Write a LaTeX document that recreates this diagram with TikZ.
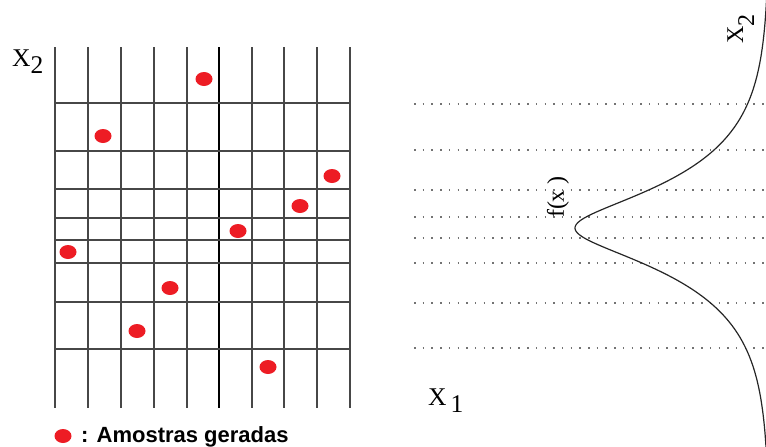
\documentclass[tikz,border=0pt]{standalone}
\usepackage{fontspec}
\setmainfont{Liberation Serif}
\newfontfamily\legendfont{Liberation Sans}
\usetikzlibrary{shapes.geometric}
\tikzset{
  gridline/.style={line width=1.8pt, black!72},
  midline/.style={line width=1.1pt, black},
  dotline/.style={line width=1.8pt, black!55, dash pattern=on 1.5pt off 7.2pt},
  curve/.style={line width=1.2pt, black!85},
  sample/.style={ellipse, fill={rgb,255:red,237;green,28;blue,36}, draw=none, minimum width=17pt, minimum height=14pt, inner sep=0pt},
  lbl/.style={inner sep=0pt, font=\fontsize{25.5}{26}\selectfont},
}
\begin{document}
\begin{tikzpicture}[x=1pt,y=-1pt]
\useasboundingbox (0,0) rectangle (766,447);
% left grid
\foreach \x in {55,88,121,154,187,252,284,317,350}
  \draw[gridline] (\x,47) -- (\x,408);
\draw[midline] (219,47) -- (219,408);
\foreach \y in {103,151,189,218,240,263,302,349}
  \draw[gridline] (55,\y) -- (350,\y);
% samples
\node[sample] (s1) at (204,79) {};
\node[sample] (s2) at (103,136) {};
\node[sample] (s3) at (332,176) {};
\node[sample] (s4) at (300,206) {};
\node[sample] (s5) at (238,231) {};
\node[sample] (s6) at (68,252) {};
\node[sample] (s7) at (170,288) {};
\node[sample] (s8) at (137,331) {};
\node[sample] (s9) at (268,367) {};
% legend
\node[sample] (leg) at (63,436) {};
\node[inner sep=0pt, anchor=base west, font=\legendfont\bfseries\fontsize{22}{22}\selectfont] (legtxt) at (81,442) {: Amostras geradas};
% left label
\node[lbl, anchor=base west] (x2l) at (12,66) {X\raisebox{-7pt}{2}};
% right dotted lines
\foreach \y in {104,150,190,217,238,263,303,348}
  \draw[dotline] (414,\y) -- (766,\y);
% density curve
\draw[curve] plot[domain=-22.8:21.9, samples=220, variable=\u]
  ({769-194*exp(-(sqrt(4.0+\u*\u)-2.0)/4.8)}, {228+10*\u});
% right labels
\node[lbl, rotate=90, font=\fontsize{24}{24}\selectfont] (fx) at (558,197) {f(x )};
\node[lbl, rotate=90, anchor=base west, font=\fontsize{24}{24}\selectfont] (x2r) at (743,44) {X\raisebox{-11pt}{2}};
\node[lbl, anchor=base west] (x1) at (428,405) {X\hspace{4pt}\raisebox{-7pt}{1}};
\end{tikzpicture}
\end{document}
